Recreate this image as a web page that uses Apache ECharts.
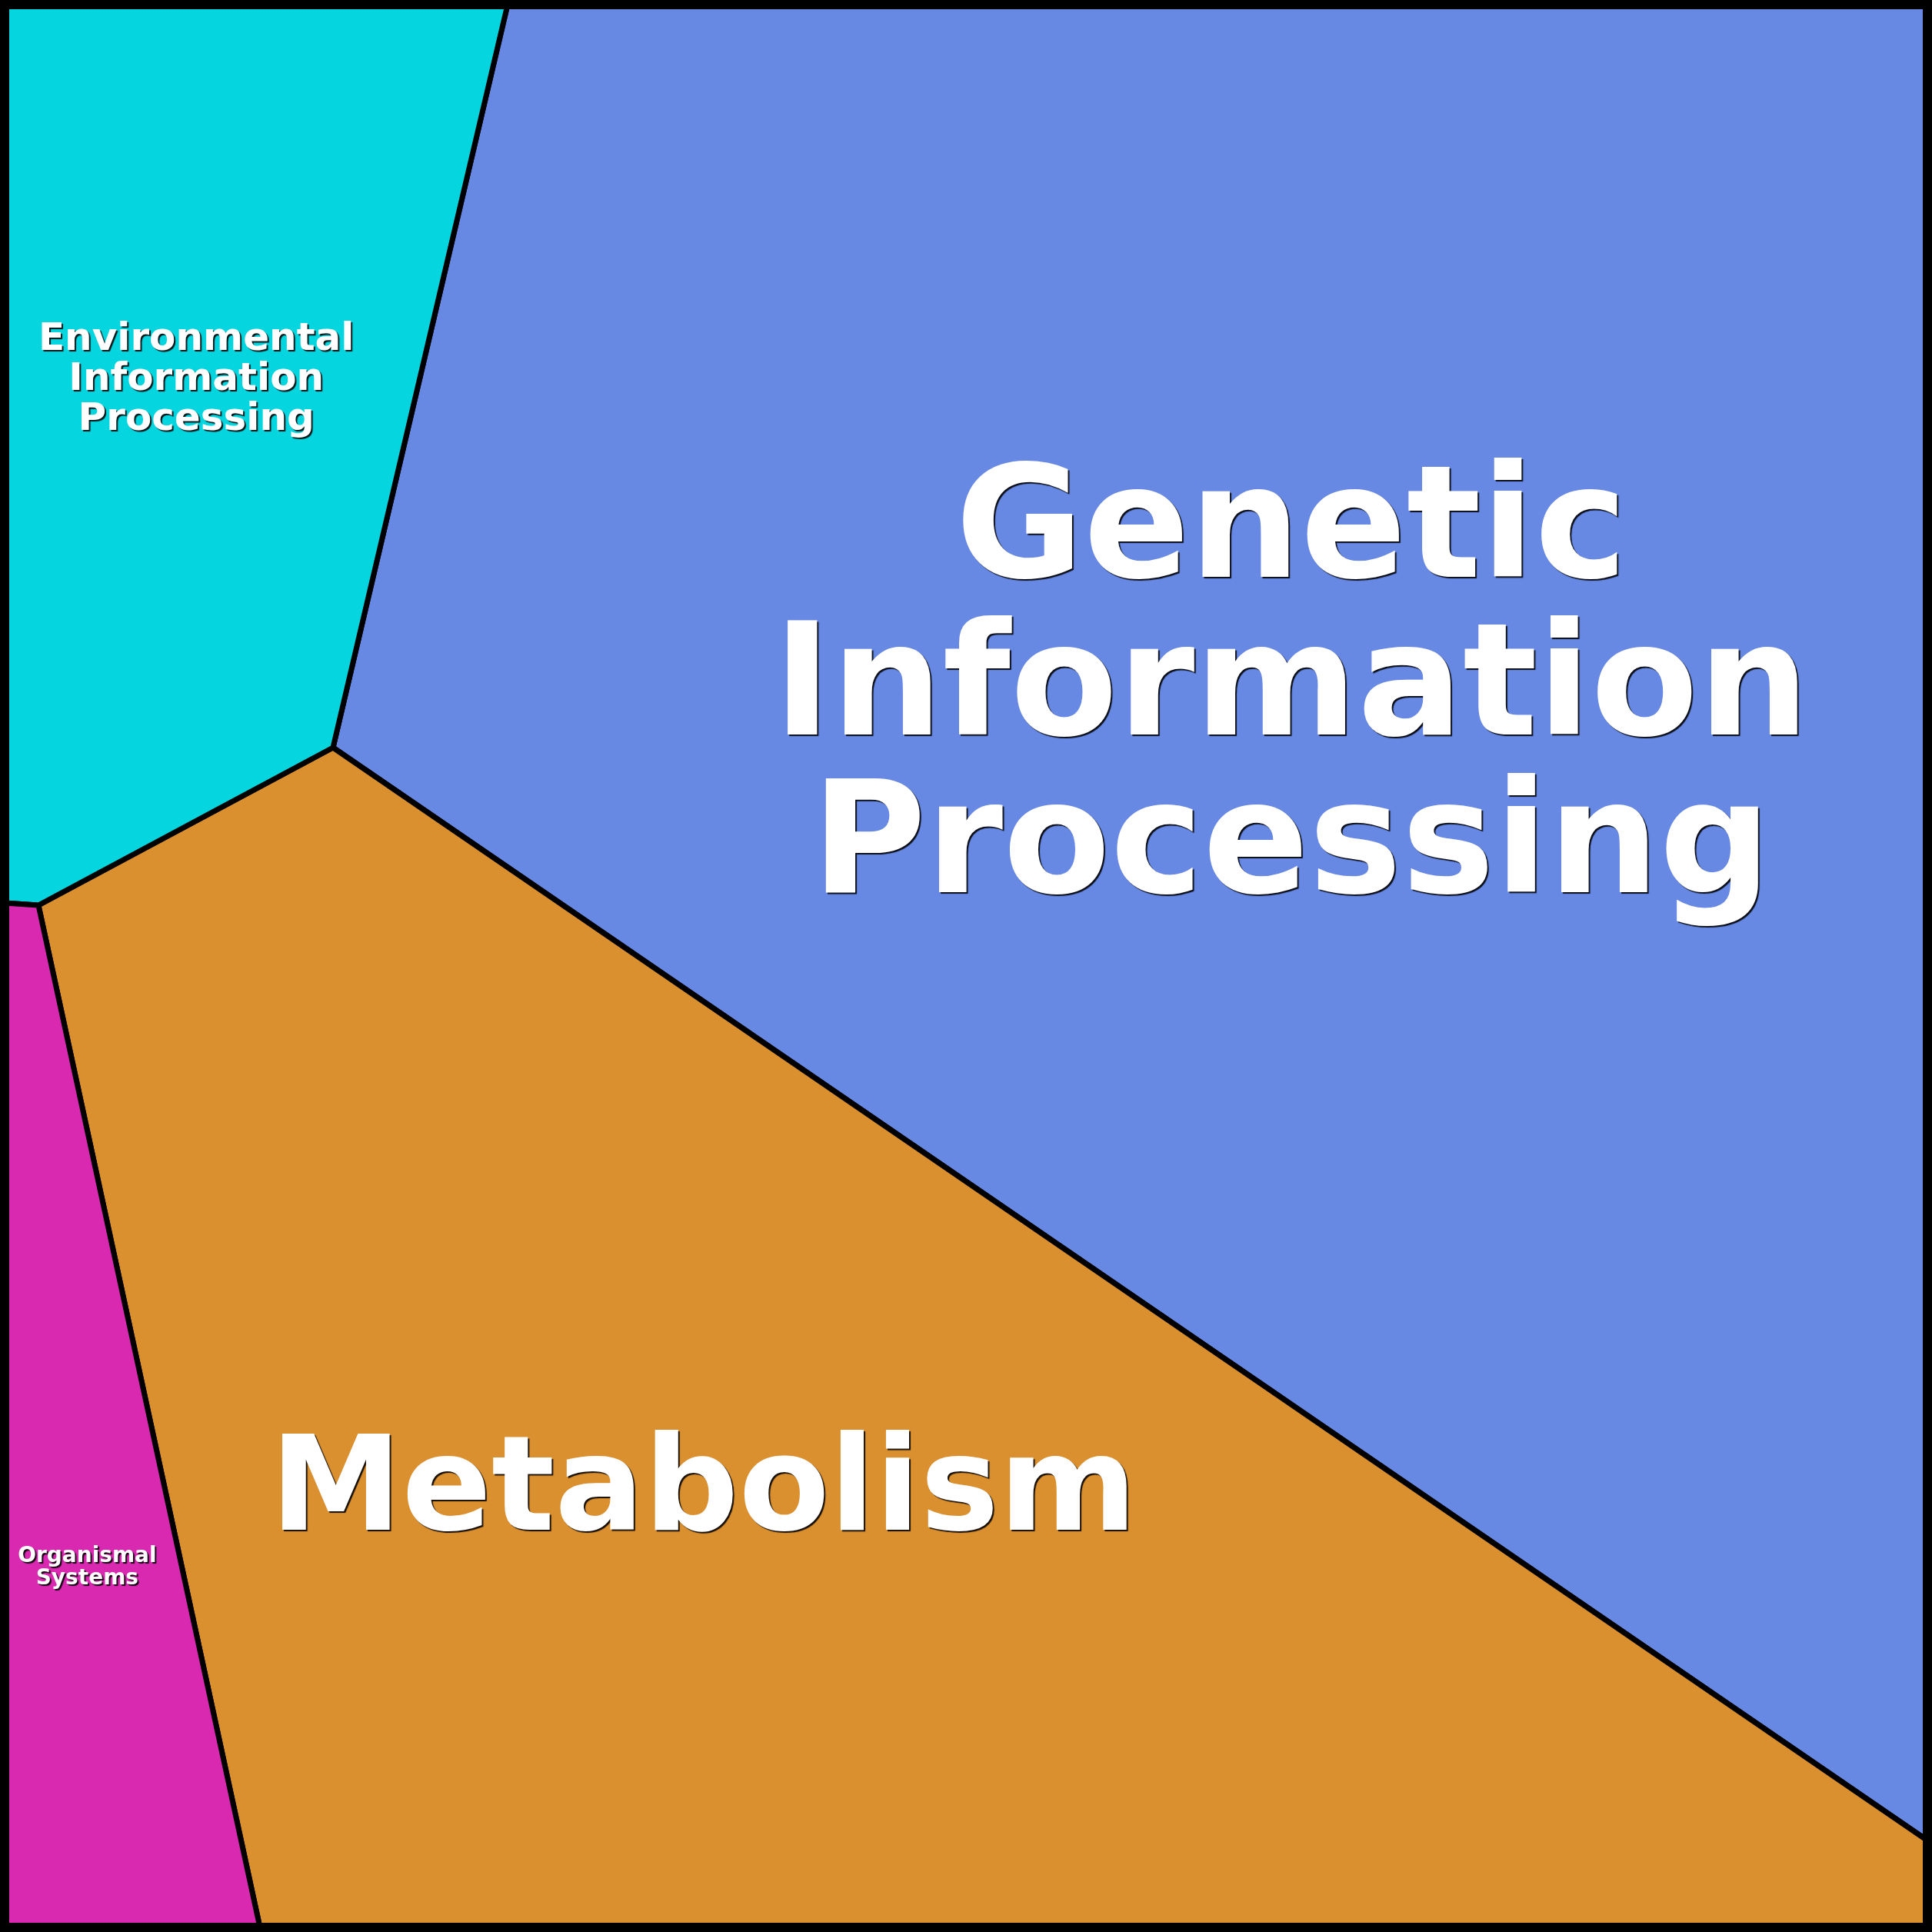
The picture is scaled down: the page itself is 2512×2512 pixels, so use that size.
<!DOCTYPE html>
<html>
<head>
<meta charset="utf-8">
<script src="https://cdn.jsdelivr.net/npm/echarts@6/dist/echarts.min.js"></script>
<style>html,body{margin:0;padding:0;background:#fff}#c{width:2512px;height:2512px}</style>
</head>
<body>
<div id="c"></div>
<script>
// Voronoi treemap cells (data coordinates, y downward)
const categories = ['Genetic Information Processing', 'Metabolism', 'Environmental Information Processing', 'Organismal Systems'];
const labels = ['Genetic\nInformation\nProcessing', 'Metabolism', 'Environmental\nInformation\nProcessing', 'Organismal\nSystems'];
const cellGenetic = [[660, 6], [2506, 6], [2506, 2393], [433, 972]];
const cellMetabolism = [[433, 972], [2506, 2393], [2506, 2506], [338, 2506], [50, 1177]];
const cellEnvironmental = [[6, 6], [660, 6], [433, 972], [50, 1177], [6, 1174]];
const cellOrganismal = [[6, 1174], [50, 1177], [338, 2506], [6, 2506]];
const cells = [cellGenetic, cellMetabolism, cellEnvironmental, cellOrganismal];
const bounds = [[6, 6], [2506, 2506]];

const colors = ['#6789E4', '#DB9030', '#05D5DF', '#D829B0'];
const fontSizes = [203, 172, 50, 28];
const lineHeights = [205, 172, 52, 29];
const labelShift = [[27, -11], [-106, 13], [-14, -11], [-5, 27]];

function centroid(pts) {
  let a = 0, cx = 0, cy = 0;
  for (let i = 0; i < pts.length; i++) {
    const p = pts[i], q = pts[(i + 1) % pts.length];
    const c = p[0] * q[1] - q[0] * p[1];
    a += c; cx += (p[0] + q[0]) * c; cy += (p[1] + q[1]) * c;
  }
  a /= 2;
  return [cx / (6 * a), cy / (6 * a)];
}

const chart = echarts.init(document.getElementById('c'));
chart.setOption({
  animation: false,
  backgroundColor: '#ffffff',
  grid: {left: 0, right: 0, top: 0, bottom: 0},
  xAxis: {type: 'value', min: 0, max: 2512, show: false},
  yAxis: {type: 'value', min: 0, max: 2512, inverse: true, show: false},
  series: [
    {
      type: 'custom',
      coordinateSystem: 'cartesian2d',
      data: categories.map((n, i) => ({name: n, value: [i]})),
      renderItem: function (params, api) {
        const i = params.dataIndex;
        const pts = cells[i].map(p => api.coord(p));
        const c = api.coord(centroid(cells[i]));
        return {
          type: 'group',
          children: [
            {
              type: 'polygon',
              shape: {points: pts},
              style: {fill: colors[i], stroke: '#000', lineWidth: 7, lineJoin: 'round'}
            },
            {
              type: 'text',
              z2: 10,
              style: {
                text: labels[i],
                x: c[0] + labelShift[i][0],
                y: c[1] + labelShift[i][1],
                align: 'center',
                verticalAlign: 'middle',
                fill: '#ffffff',
                fontFamily: 'DejaVu Sans',
                fontWeight: 'bold',
                fontSize: fontSizes[i],
                lineHeight: lineHeights[i],
                textShadowColor: 'rgba(0,0,0,0.9)',
                textShadowBlur: 1,
                textShadowOffsetX: 2,
                textShadowOffsetY: 2
              }
            }
          ]
        };
      }
    },
    {
      type: 'custom',
      coordinateSystem: 'cartesian2d',
      z: 5,
      data: [[0]],
      renderItem: function (params, api) {
        const a = api.coord(bounds[0]), b = api.coord(bounds[1]);
        return {
          type: 'rect',
          shape: {x: a[0], y: a[1], width: b[0] - a[0], height: b[1] - a[1]},
          style: {fill: 'none', stroke: '#000', lineWidth: 12}
        };
      }
    }
  ]
});
</script>
</body>
</html>
